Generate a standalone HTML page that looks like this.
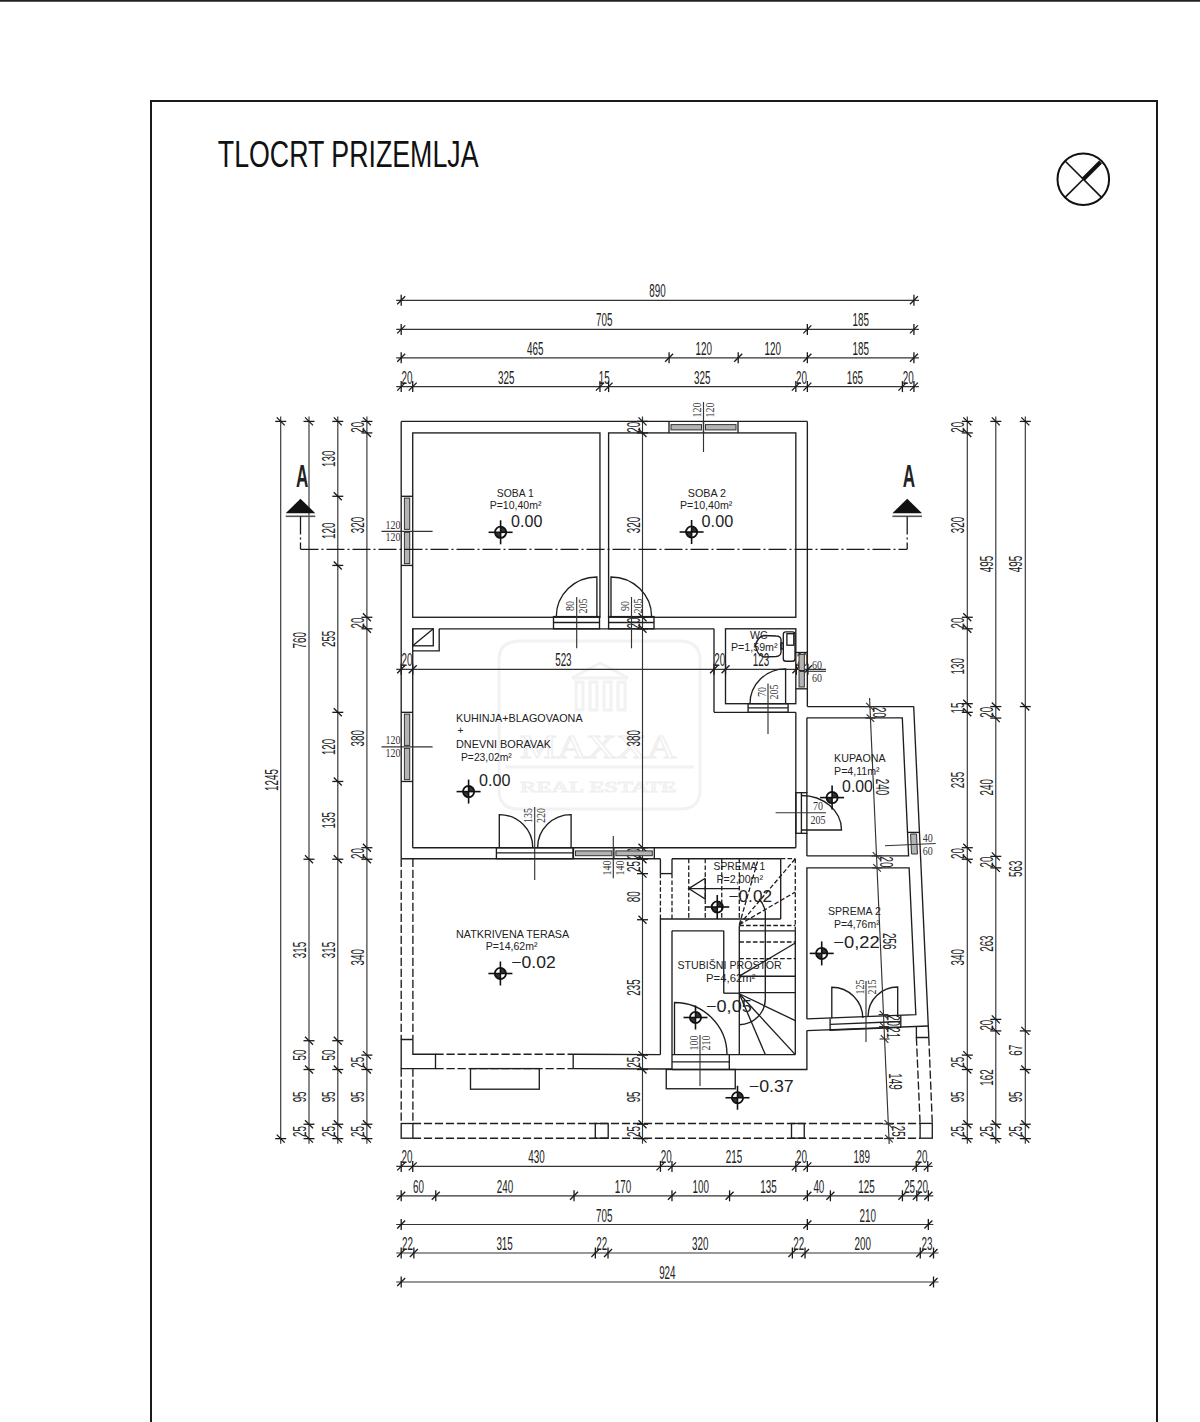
<!DOCTYPE html>
<html><head><meta charset="utf-8"><style>
*{margin:0;padding:0}
html,body{width:1200px;height:1422px;background:#fff;overflow:hidden}
svg{display:block}
.w{stroke:#1e1e1e;stroke-width:1.35;fill:none}
.dsh2{stroke:#1e1e1e;stroke-width:1.3;fill:none;stroke-dasharray:4.6 2.2}
.dsh{stroke:#1e1e1e;stroke-width:1.35;fill:none;stroke-dasharray:8.2 2.8}
.d{stroke:#333;stroke-width:1.15;fill:none}
.tk{stroke:#1a1a1a;stroke-width:1.3;fill:none}
.pane{fill:#b4b4b4;stroke:#333;stroke-width:1}
.sec{stroke:#1a1a1a;stroke-width:1.3;fill:none;stroke-dasharray:18 3 2 3}
.t{font-family:"Liberation Sans",sans-serif;fill:#222}
.tl{font-family:"Liberation Serif",serif;fill:#333}
.tt{font-family:"Liberation Sans",sans-serif;fill:#111}
.mk{fill:none;stroke:#111;stroke-width:1.8}
.mkf{fill:#333}
.mkl{stroke:#111;stroke-width:1.6}
.cmp{stroke:#111;stroke-width:1.6}
</style></head>
<body><svg width="1200" height="1422" viewBox="0 0 1200 1422">
<g opacity="0.9" fill="none" stroke="#f1f1f1" stroke-width="3"><path d="M499,660 Q499,641 520,641 L679,641 Q700,641 700,660 L700,790 Q700,809 680,809 L519,809 Q499,809 499,790 Z"/><line x1="505" y1="767" x2="694" y2="767"/><polygon points="600,663 572,678 628,678"/><rect x="576" y="682" width="7" height="28"/><rect x="590" y="682" width="7" height="28"/><rect x="604" y="682" width="7" height="28"/><rect x="618" y="682" width="7" height="28"/></g><text x="598" y="758" font-size="34" text-anchor="middle" textLength="156" lengthAdjust="spacingAndGlyphs" fill="none" stroke="#eeeeee" stroke-width="1.2" font-family="Liberation Serif, serif">MAXXA</text><text x="598" y="792" font-size="15" text-anchor="middle" textLength="156" lengthAdjust="spacingAndGlyphs" fill="none" stroke="#f0f0f0" stroke-width="1" font-family="Liberation Serif, serif">REAL ESTATE</text>
<line x1="396.2" y1="300.3" x2="918.93" y2="300.3" class="d" />
<line x1="401.2" y1="294.8" x2="401.2" y2="305.8" class="tk" />
<line x1="397.2" y1="304.3" x2="405.2" y2="296.3" class="tk" />
<line x1="913.93" y1="294.8" x2="913.93" y2="305.8" class="tk" />
<line x1="909.93" y1="304.3" x2="917.93" y2="296.3" class="tk" />
<text transform="translate(657.56,297.3) scale(0.53,1)" font-size="18.6" text-anchor="middle" class="t">890</text>
<line x1="396.2" y1="329.4" x2="918.93" y2="329.4" class="d" />
<line x1="401.2" y1="323.9" x2="401.2" y2="334.9" class="tk" />
<line x1="397.2" y1="333.4" x2="405.2" y2="325.4" class="tk" />
<line x1="807.35" y1="323.9" x2="807.35" y2="334.9" class="tk" />
<line x1="803.35" y1="333.4" x2="811.35" y2="325.4" class="tk" />
<line x1="913.93" y1="323.9" x2="913.93" y2="334.9" class="tk" />
<line x1="909.93" y1="333.4" x2="917.93" y2="325.4" class="tk" />
<text transform="translate(604.28,326.4) scale(0.53,1)" font-size="18.6" text-anchor="middle" class="t">705</text>
<text transform="translate(860.64,326.4) scale(0.53,1)" font-size="18.6" text-anchor="middle" class="t">185</text>
<line x1="396.2" y1="357.8" x2="918.93" y2="357.8" class="d" />
<line x1="401.2" y1="352.3" x2="401.2" y2="363.3" class="tk" />
<line x1="397.2" y1="361.8" x2="405.2" y2="353.8" class="tk" />
<line x1="669.09" y1="352.3" x2="669.09" y2="363.3" class="tk" />
<line x1="665.09" y1="361.8" x2="673.09" y2="353.8" class="tk" />
<line x1="738.22" y1="352.3" x2="738.22" y2="363.3" class="tk" />
<line x1="734.22" y1="361.8" x2="742.22" y2="353.8" class="tk" />
<line x1="807.35" y1="352.3" x2="807.35" y2="363.3" class="tk" />
<line x1="803.35" y1="361.8" x2="811.35" y2="353.8" class="tk" />
<line x1="913.93" y1="352.3" x2="913.93" y2="363.3" class="tk" />
<line x1="909.93" y1="361.8" x2="917.93" y2="353.8" class="tk" />
<text transform="translate(535.14,354.8) scale(0.53,1)" font-size="18.6" text-anchor="middle" class="t">465</text>
<text transform="translate(703.65,354.8) scale(0.53,1)" font-size="18.6" text-anchor="middle" class="t">120</text>
<text transform="translate(772.78,354.8) scale(0.53,1)" font-size="18.6" text-anchor="middle" class="t">120</text>
<text transform="translate(860.64,354.8) scale(0.53,1)" font-size="18.6" text-anchor="middle" class="t">185</text>
<line x1="396.2" y1="386.6" x2="918.93" y2="386.6" class="d" />
<line x1="401.2" y1="381.1" x2="401.2" y2="392.1" class="tk" />
<line x1="397.2" y1="390.6" x2="405.2" y2="382.6" class="tk" />
<line x1="412.72" y1="381.1" x2="412.72" y2="392.1" class="tk" />
<line x1="408.72" y1="390.6" x2="416.72" y2="382.6" class="tk" />
<line x1="599.95" y1="381.1" x2="599.95" y2="392.1" class="tk" />
<line x1="595.95" y1="390.6" x2="603.95" y2="382.6" class="tk" />
<line x1="608.6" y1="381.1" x2="608.6" y2="392.1" class="tk" />
<line x1="604.6" y1="390.6" x2="612.6" y2="382.6" class="tk" />
<line x1="795.83" y1="381.1" x2="795.83" y2="392.1" class="tk" />
<line x1="791.83" y1="390.6" x2="799.83" y2="382.6" class="tk" />
<line x1="807.35" y1="381.1" x2="807.35" y2="392.1" class="tk" />
<line x1="803.35" y1="390.6" x2="811.35" y2="382.6" class="tk" />
<line x1="902.41" y1="381.1" x2="902.41" y2="392.1" class="tk" />
<line x1="898.41" y1="390.6" x2="906.41" y2="382.6" class="tk" />
<line x1="913.93" y1="381.1" x2="913.93" y2="392.1" class="tk" />
<line x1="909.93" y1="390.6" x2="917.93" y2="382.6" class="tk" />
<text transform="translate(406.96,383.6) scale(0.53,1)" font-size="18.6" text-anchor="middle" class="t">20</text>
<text transform="translate(506.34,383.6) scale(0.53,1)" font-size="18.6" text-anchor="middle" class="t">325</text>
<text transform="translate(604.28,383.6) scale(0.53,1)" font-size="18.6" text-anchor="middle" class="t">15</text>
<text transform="translate(702.21,383.6) scale(0.53,1)" font-size="18.6" text-anchor="middle" class="t">325</text>
<text transform="translate(801.59,383.6) scale(0.53,1)" font-size="18.6" text-anchor="middle" class="t">20</text>
<text transform="translate(854.88,383.6) scale(0.53,1)" font-size="18.6" text-anchor="middle" class="t">165</text>
<text transform="translate(908.17,383.6) scale(0.53,1)" font-size="18.6" text-anchor="middle" class="t">20</text>
<line x1="396.2" y1="1166.4" x2="932.76" y2="1166.4" class="d" />
<line x1="401.2" y1="1160.9" x2="401.2" y2="1171.9" class="tk" />
<line x1="397.2" y1="1170.4" x2="405.2" y2="1162.4" class="tk" />
<line x1="412.72" y1="1160.9" x2="412.72" y2="1171.9" class="tk" />
<line x1="408.72" y1="1170.4" x2="416.72" y2="1162.4" class="tk" />
<line x1="660.44" y1="1160.9" x2="660.44" y2="1171.9" class="tk" />
<line x1="656.44" y1="1170.4" x2="664.44" y2="1162.4" class="tk" />
<line x1="671.97" y1="1160.9" x2="671.97" y2="1171.9" class="tk" />
<line x1="667.97" y1="1170.4" x2="675.97" y2="1162.4" class="tk" />
<line x1="795.83" y1="1160.9" x2="795.83" y2="1171.9" class="tk" />
<line x1="791.83" y1="1170.4" x2="799.83" y2="1162.4" class="tk" />
<line x1="807.35" y1="1160.9" x2="807.35" y2="1171.9" class="tk" />
<line x1="803.35" y1="1170.4" x2="811.35" y2="1162.4" class="tk" />
<line x1="916.23" y1="1160.9" x2="916.23" y2="1171.9" class="tk" />
<line x1="912.23" y1="1170.4" x2="920.23" y2="1162.4" class="tk" />
<line x1="927.76" y1="1160.9" x2="927.76" y2="1171.9" class="tk" />
<line x1="923.76" y1="1170.4" x2="931.76" y2="1162.4" class="tk" />
<text transform="translate(406.96,1163.4) scale(0.53,1)" font-size="18.6" text-anchor="middle" class="t">20</text>
<text transform="translate(536.58,1163.4) scale(0.53,1)" font-size="18.6" text-anchor="middle" class="t">430</text>
<text transform="translate(666.21,1163.4) scale(0.53,1)" font-size="18.6" text-anchor="middle" class="t">20</text>
<text transform="translate(733.9,1163.4) scale(0.53,1)" font-size="18.6" text-anchor="middle" class="t">215</text>
<text transform="translate(801.59,1163.4) scale(0.53,1)" font-size="18.6" text-anchor="middle" class="t">20</text>
<text transform="translate(861.79,1163.4) scale(0.53,1)" font-size="18.6" text-anchor="middle" class="t">189</text>
<text transform="translate(921.99,1163.4) scale(0.53,1)" font-size="18.6" text-anchor="middle" class="t">20</text>
<line x1="396.2" y1="1195.8" x2="933.33" y2="1195.8" class="d" />
<line x1="401.2" y1="1190.3" x2="401.2" y2="1201.3" class="tk" />
<line x1="397.2" y1="1199.8" x2="405.2" y2="1191.8" class="tk" />
<line x1="435.77" y1="1190.3" x2="435.77" y2="1201.3" class="tk" />
<line x1="431.77" y1="1199.8" x2="439.77" y2="1191.8" class="tk" />
<line x1="574.03" y1="1190.3" x2="574.03" y2="1201.3" class="tk" />
<line x1="570.03" y1="1199.8" x2="578.03" y2="1191.8" class="tk" />
<line x1="671.97" y1="1190.3" x2="671.97" y2="1201.3" class="tk" />
<line x1="667.97" y1="1199.8" x2="675.97" y2="1191.8" class="tk" />
<line x1="729.58" y1="1190.3" x2="729.58" y2="1201.3" class="tk" />
<line x1="725.58" y1="1199.8" x2="733.58" y2="1191.8" class="tk" />
<line x1="807.35" y1="1190.3" x2="807.35" y2="1201.3" class="tk" />
<line x1="803.35" y1="1199.8" x2="811.35" y2="1191.8" class="tk" />
<line x1="830.39" y1="1190.3" x2="830.39" y2="1201.3" class="tk" />
<line x1="826.39" y1="1199.8" x2="834.39" y2="1191.8" class="tk" />
<line x1="902.41" y1="1190.3" x2="902.41" y2="1201.3" class="tk" />
<line x1="898.41" y1="1199.8" x2="906.41" y2="1191.8" class="tk" />
<line x1="916.81" y1="1190.3" x2="916.81" y2="1201.3" class="tk" />
<line x1="912.81" y1="1199.8" x2="920.81" y2="1191.8" class="tk" />
<line x1="928.33" y1="1190.3" x2="928.33" y2="1201.3" class="tk" />
<line x1="924.33" y1="1199.8" x2="932.33" y2="1191.8" class="tk" />
<text transform="translate(418.48,1192.8) scale(0.53,1)" font-size="18.6" text-anchor="middle" class="t">60</text>
<text transform="translate(504.9,1192.8) scale(0.53,1)" font-size="18.6" text-anchor="middle" class="t">240</text>
<text transform="translate(623,1192.8) scale(0.53,1)" font-size="18.6" text-anchor="middle" class="t">170</text>
<text transform="translate(700.77,1192.8) scale(0.53,1)" font-size="18.6" text-anchor="middle" class="t">100</text>
<text transform="translate(768.46,1192.8) scale(0.53,1)" font-size="18.6" text-anchor="middle" class="t">135</text>
<text transform="translate(818.87,1192.8) scale(0.53,1)" font-size="18.6" text-anchor="middle" class="t">40</text>
<text transform="translate(866.4,1192.8) scale(0.53,1)" font-size="18.6" text-anchor="middle" class="t">125</text>
<text transform="translate(909.61,1192.8) scale(0.53,1)" font-size="18.6" text-anchor="middle" class="t">25</text>
<text transform="translate(922.57,1192.8) scale(0.53,1)" font-size="18.6" text-anchor="middle" class="t">20</text>
<line x1="396.2" y1="1224.5" x2="933.33" y2="1224.5" class="d" />
<line x1="401.2" y1="1219" x2="401.2" y2="1230" class="tk" />
<line x1="397.2" y1="1228.5" x2="405.2" y2="1220.5" class="tk" />
<line x1="807.35" y1="1219" x2="807.35" y2="1230" class="tk" />
<line x1="803.35" y1="1228.5" x2="811.35" y2="1220.5" class="tk" />
<line x1="928.33" y1="1219" x2="928.33" y2="1230" class="tk" />
<line x1="924.33" y1="1228.5" x2="932.33" y2="1220.5" class="tk" />
<text transform="translate(604.28,1221.5) scale(0.53,1)" font-size="18.6" text-anchor="middle" class="t">705</text>
<text transform="translate(867.84,1221.5) scale(0.53,1)" font-size="18.6" text-anchor="middle" class="t">210</text>
<line x1="396.2" y1="1253" x2="938.52" y2="1253" class="d" />
<line x1="401.2" y1="1247.5" x2="401.2" y2="1258.5" class="tk" />
<line x1="397.2" y1="1257" x2="405.2" y2="1249" class="tk" />
<line x1="413.87" y1="1247.5" x2="413.87" y2="1258.5" class="tk" />
<line x1="409.87" y1="1257" x2="417.87" y2="1249" class="tk" />
<line x1="595.35" y1="1247.5" x2="595.35" y2="1258.5" class="tk" />
<line x1="591.35" y1="1257" x2="599.35" y2="1249" class="tk" />
<line x1="608.02" y1="1247.5" x2="608.02" y2="1258.5" class="tk" />
<line x1="604.02" y1="1257" x2="612.02" y2="1249" class="tk" />
<line x1="792.37" y1="1247.5" x2="792.37" y2="1258.5" class="tk" />
<line x1="788.37" y1="1257" x2="796.37" y2="1249" class="tk" />
<line x1="805.05" y1="1247.5" x2="805.05" y2="1258.5" class="tk" />
<line x1="801.05" y1="1257" x2="809.05" y2="1249" class="tk" />
<line x1="920.27" y1="1247.5" x2="920.27" y2="1258.5" class="tk" />
<line x1="916.27" y1="1257" x2="924.27" y2="1249" class="tk" />
<line x1="933.52" y1="1247.5" x2="933.52" y2="1258.5" class="tk" />
<line x1="929.52" y1="1257" x2="937.52" y2="1249" class="tk" />
<text transform="translate(407.54,1250) scale(0.53,1)" font-size="18.6" text-anchor="middle" class="t">22</text>
<text transform="translate(504.61,1250) scale(0.53,1)" font-size="18.6" text-anchor="middle" class="t">315</text>
<text transform="translate(601.68,1250) scale(0.53,1)" font-size="18.6" text-anchor="middle" class="t">22</text>
<text transform="translate(700.2,1250) scale(0.53,1)" font-size="18.6" text-anchor="middle" class="t">320</text>
<text transform="translate(798.71,1250) scale(0.53,1)" font-size="18.6" text-anchor="middle" class="t">22</text>
<text transform="translate(862.66,1250) scale(0.53,1)" font-size="18.6" text-anchor="middle" class="t">200</text>
<text transform="translate(926.89,1250) scale(0.53,1)" font-size="18.6" text-anchor="middle" class="t">23</text>
<line x1="396.2" y1="1282" x2="938.52" y2="1282" class="d" />
<line x1="401.2" y1="1276.5" x2="401.2" y2="1287.5" class="tk" />
<line x1="397.2" y1="1286" x2="405.2" y2="1278" class="tk" />
<line x1="933.52" y1="1276.5" x2="933.52" y2="1287.5" class="tk" />
<line x1="929.52" y1="1286" x2="937.52" y2="1278" class="tk" />
<text transform="translate(667.36,1279) scale(0.53,1)" font-size="18.6" text-anchor="middle" class="t">924</text>
<line x1="280.7" y1="416.4" x2="280.7" y2="1143.64" class="d" />
<line x1="275.2" y1="421.4" x2="286.2" y2="421.4" class="tk" />
<line x1="276.7" y1="417.4" x2="284.7" y2="425.4" class="tk" />
<line x1="275.2" y1="1138.64" x2="286.2" y2="1138.64" class="tk" />
<line x1="276.7" y1="1134.64" x2="284.7" y2="1142.64" class="tk" />
<text transform="translate(277.7,780.02) rotate(-90) scale(0.53,1)" font-size="18.6" text-anchor="middle" class="t">1245</text>
<line x1="309" y1="416.4" x2="309" y2="1143.64" class="d" />
<line x1="303.5" y1="421.4" x2="314.5" y2="421.4" class="tk" />
<line x1="305" y1="417.4" x2="313" y2="425.4" class="tk" />
<line x1="303.5" y1="859.24" x2="314.5" y2="859.24" class="tk" />
<line x1="305" y1="855.24" x2="313" y2="863.24" class="tk" />
<line x1="303.5" y1="1040.71" x2="314.5" y2="1040.71" class="tk" />
<line x1="305" y1="1036.71" x2="313" y2="1044.71" class="tk" />
<line x1="303.5" y1="1069.51" x2="314.5" y2="1069.51" class="tk" />
<line x1="305" y1="1065.51" x2="313" y2="1073.51" class="tk" />
<line x1="303.5" y1="1124.24" x2="314.5" y2="1124.24" class="tk" />
<line x1="305" y1="1120.24" x2="313" y2="1128.24" class="tk" />
<line x1="303.5" y1="1138.64" x2="314.5" y2="1138.64" class="tk" />
<line x1="305" y1="1134.64" x2="313" y2="1142.64" class="tk" />
<text transform="translate(306,640.32) rotate(-90) scale(0.53,1)" font-size="18.6" text-anchor="middle" class="t">760</text>
<text transform="translate(306,949.97) rotate(-90) scale(0.53,1)" font-size="18.6" text-anchor="middle" class="t">315</text>
<text transform="translate(306,1055.11) rotate(-90) scale(0.53,1)" font-size="18.6" text-anchor="middle" class="t">50</text>
<text transform="translate(306,1096.88) rotate(-90) scale(0.53,1)" font-size="18.6" text-anchor="middle" class="t">95</text>
<text transform="translate(306,1131.44) rotate(-90) scale(0.53,1)" font-size="18.6" text-anchor="middle" class="t">25</text>
<line x1="337.8" y1="416.4" x2="337.8" y2="1143.64" class="d" />
<line x1="332.3" y1="421.4" x2="343.3" y2="421.4" class="tk" />
<line x1="333.8" y1="417.4" x2="341.8" y2="425.4" class="tk" />
<line x1="332.3" y1="496.29" x2="343.3" y2="496.29" class="tk" />
<line x1="333.8" y1="492.29" x2="341.8" y2="500.29" class="tk" />
<line x1="332.3" y1="565.42" x2="343.3" y2="565.42" class="tk" />
<line x1="333.8" y1="561.42" x2="341.8" y2="569.42" class="tk" />
<line x1="332.3" y1="712.33" x2="343.3" y2="712.33" class="tk" />
<line x1="333.8" y1="708.33" x2="341.8" y2="716.33" class="tk" />
<line x1="332.3" y1="781.46" x2="343.3" y2="781.46" class="tk" />
<line x1="333.8" y1="777.46" x2="341.8" y2="785.46" class="tk" />
<line x1="332.3" y1="859.24" x2="343.3" y2="859.24" class="tk" />
<line x1="333.8" y1="855.24" x2="341.8" y2="863.24" class="tk" />
<line x1="332.3" y1="1040.71" x2="343.3" y2="1040.71" class="tk" />
<line x1="333.8" y1="1036.71" x2="341.8" y2="1044.71" class="tk" />
<line x1="332.3" y1="1069.51" x2="343.3" y2="1069.51" class="tk" />
<line x1="333.8" y1="1065.51" x2="341.8" y2="1073.51" class="tk" />
<line x1="332.3" y1="1124.24" x2="343.3" y2="1124.24" class="tk" />
<line x1="333.8" y1="1120.24" x2="341.8" y2="1128.24" class="tk" />
<line x1="332.3" y1="1138.64" x2="343.3" y2="1138.64" class="tk" />
<line x1="333.8" y1="1134.64" x2="341.8" y2="1142.64" class="tk" />
<text transform="translate(334.8,458.85) rotate(-90) scale(0.53,1)" font-size="18.6" text-anchor="middle" class="t">130</text>
<text transform="translate(334.8,530.86) rotate(-90) scale(0.53,1)" font-size="18.6" text-anchor="middle" class="t">120</text>
<text transform="translate(334.8,638.88) rotate(-90) scale(0.53,1)" font-size="18.6" text-anchor="middle" class="t">255</text>
<text transform="translate(334.8,746.9) rotate(-90) scale(0.53,1)" font-size="18.6" text-anchor="middle" class="t">120</text>
<text transform="translate(334.8,820.35) rotate(-90) scale(0.53,1)" font-size="18.6" text-anchor="middle" class="t">135</text>
<text transform="translate(334.8,949.97) rotate(-90) scale(0.53,1)" font-size="18.6" text-anchor="middle" class="t">315</text>
<text transform="translate(334.8,1055.11) rotate(-90) scale(0.53,1)" font-size="18.6" text-anchor="middle" class="t">50</text>
<text transform="translate(334.8,1096.88) rotate(-90) scale(0.53,1)" font-size="18.6" text-anchor="middle" class="t">95</text>
<text transform="translate(334.8,1131.44) rotate(-90) scale(0.53,1)" font-size="18.6" text-anchor="middle" class="t">25</text>
<line x1="366.9" y1="416.4" x2="366.9" y2="1143.64" class="d" />
<line x1="361.4" y1="421.4" x2="372.4" y2="421.4" class="tk" />
<line x1="362.9" y1="417.4" x2="370.9" y2="425.4" class="tk" />
<line x1="361.4" y1="432.92" x2="372.4" y2="432.92" class="tk" />
<line x1="362.9" y1="428.92" x2="370.9" y2="436.92" class="tk" />
<line x1="361.4" y1="617.27" x2="372.4" y2="617.27" class="tk" />
<line x1="362.9" y1="613.27" x2="370.9" y2="621.27" class="tk" />
<line x1="361.4" y1="628.8" x2="372.4" y2="628.8" class="tk" />
<line x1="362.9" y1="624.8" x2="370.9" y2="632.8" class="tk" />
<line x1="361.4" y1="847.71" x2="372.4" y2="847.71" class="tk" />
<line x1="362.9" y1="843.71" x2="370.9" y2="851.71" class="tk" />
<line x1="361.4" y1="859.24" x2="372.4" y2="859.24" class="tk" />
<line x1="362.9" y1="855.24" x2="370.9" y2="863.24" class="tk" />
<line x1="361.4" y1="1055.11" x2="372.4" y2="1055.11" class="tk" />
<line x1="362.9" y1="1051.11" x2="370.9" y2="1059.11" class="tk" />
<line x1="361.4" y1="1069.51" x2="372.4" y2="1069.51" class="tk" />
<line x1="362.9" y1="1065.51" x2="370.9" y2="1073.51" class="tk" />
<line x1="361.4" y1="1124.24" x2="372.4" y2="1124.24" class="tk" />
<line x1="362.9" y1="1120.24" x2="370.9" y2="1128.24" class="tk" />
<line x1="361.4" y1="1138.64" x2="372.4" y2="1138.64" class="tk" />
<line x1="362.9" y1="1134.64" x2="370.9" y2="1142.64" class="tk" />
<text transform="translate(363.9,427.16) rotate(-90) scale(0.53,1)" font-size="18.6" text-anchor="middle" class="t">20</text>
<text transform="translate(363.9,525.1) rotate(-90) scale(0.53,1)" font-size="18.6" text-anchor="middle" class="t">320</text>
<text transform="translate(363.9,623.03) rotate(-90) scale(0.53,1)" font-size="18.6" text-anchor="middle" class="t">20</text>
<text transform="translate(363.9,738.25) rotate(-90) scale(0.53,1)" font-size="18.6" text-anchor="middle" class="t">380</text>
<text transform="translate(363.9,853.47) rotate(-90) scale(0.53,1)" font-size="18.6" text-anchor="middle" class="t">20</text>
<text transform="translate(363.9,957.17) rotate(-90) scale(0.53,1)" font-size="18.6" text-anchor="middle" class="t">340</text>
<text transform="translate(363.9,1062.31) rotate(-90) scale(0.53,1)" font-size="18.6" text-anchor="middle" class="t">25</text>
<text transform="translate(363.9,1096.88) rotate(-90) scale(0.53,1)" font-size="18.6" text-anchor="middle" class="t">95</text>
<text transform="translate(363.9,1131.44) rotate(-90) scale(0.53,1)" font-size="18.6" text-anchor="middle" class="t">25</text>
<line x1="967.3" y1="416.4" x2="967.3" y2="1143.64" class="d" />
<line x1="961.8" y1="421.4" x2="972.8" y2="421.4" class="tk" />
<line x1="963.3" y1="417.4" x2="971.3" y2="425.4" class="tk" />
<line x1="961.8" y1="432.92" x2="972.8" y2="432.92" class="tk" />
<line x1="963.3" y1="428.92" x2="971.3" y2="436.92" class="tk" />
<line x1="961.8" y1="617.27" x2="972.8" y2="617.27" class="tk" />
<line x1="963.3" y1="613.27" x2="971.3" y2="621.27" class="tk" />
<line x1="961.8" y1="628.8" x2="972.8" y2="628.8" class="tk" />
<line x1="963.3" y1="624.8" x2="971.3" y2="632.8" class="tk" />
<line x1="961.8" y1="703.69" x2="972.8" y2="703.69" class="tk" />
<line x1="963.3" y1="699.69" x2="971.3" y2="707.69" class="tk" />
<line x1="961.8" y1="712.33" x2="972.8" y2="712.33" class="tk" />
<line x1="963.3" y1="708.33" x2="971.3" y2="716.33" class="tk" />
<line x1="961.8" y1="847.71" x2="972.8" y2="847.71" class="tk" />
<line x1="963.3" y1="843.71" x2="971.3" y2="851.71" class="tk" />
<line x1="961.8" y1="859.24" x2="972.8" y2="859.24" class="tk" />
<line x1="963.3" y1="855.24" x2="971.3" y2="863.24" class="tk" />
<line x1="961.8" y1="1055.11" x2="972.8" y2="1055.11" class="tk" />
<line x1="963.3" y1="1051.11" x2="971.3" y2="1059.11" class="tk" />
<line x1="961.8" y1="1069.51" x2="972.8" y2="1069.51" class="tk" />
<line x1="963.3" y1="1065.51" x2="971.3" y2="1073.51" class="tk" />
<line x1="961.8" y1="1124.24" x2="972.8" y2="1124.24" class="tk" />
<line x1="963.3" y1="1120.24" x2="971.3" y2="1128.24" class="tk" />
<line x1="961.8" y1="1138.64" x2="972.8" y2="1138.64" class="tk" />
<line x1="963.3" y1="1134.64" x2="971.3" y2="1142.64" class="tk" />
<text transform="translate(964.3,427.16) rotate(-90) scale(0.53,1)" font-size="18.6" text-anchor="middle" class="t">20</text>
<text transform="translate(964.3,525.1) rotate(-90) scale(0.53,1)" font-size="18.6" text-anchor="middle" class="t">320</text>
<text transform="translate(964.3,623.03) rotate(-90) scale(0.53,1)" font-size="18.6" text-anchor="middle" class="t">20</text>
<text transform="translate(964.3,666.24) rotate(-90) scale(0.53,1)" font-size="18.6" text-anchor="middle" class="t">130</text>
<text transform="translate(964.3,708.01) rotate(-90) scale(0.53,1)" font-size="18.6" text-anchor="middle" class="t">15</text>
<text transform="translate(964.3,780.02) rotate(-90) scale(0.53,1)" font-size="18.6" text-anchor="middle" class="t">235</text>
<text transform="translate(964.3,853.47) rotate(-90) scale(0.53,1)" font-size="18.6" text-anchor="middle" class="t">20</text>
<text transform="translate(964.3,957.17) rotate(-90) scale(0.53,1)" font-size="18.6" text-anchor="middle" class="t">340</text>
<text transform="translate(964.3,1062.31) rotate(-90) scale(0.53,1)" font-size="18.6" text-anchor="middle" class="t">25</text>
<text transform="translate(964.3,1096.88) rotate(-90) scale(0.53,1)" font-size="18.6" text-anchor="middle" class="t">95</text>
<text transform="translate(964.3,1131.44) rotate(-90) scale(0.53,1)" font-size="18.6" text-anchor="middle" class="t">25</text>
<line x1="995.8" y1="416.4" x2="995.8" y2="1143.64" class="d" />
<line x1="990.3" y1="421.4" x2="1001.3" y2="421.4" class="tk" />
<line x1="991.8" y1="417.4" x2="999.8" y2="425.4" class="tk" />
<line x1="990.3" y1="706.57" x2="1001.3" y2="706.57" class="tk" />
<line x1="991.8" y1="702.57" x2="999.8" y2="710.57" class="tk" />
<line x1="990.3" y1="718.09" x2="1001.3" y2="718.09" class="tk" />
<line x1="991.8" y1="714.09" x2="999.8" y2="722.09" class="tk" />
<line x1="990.3" y1="856.36" x2="1001.3" y2="856.36" class="tk" />
<line x1="991.8" y1="852.36" x2="999.8" y2="860.36" class="tk" />
<line x1="990.3" y1="867.88" x2="1001.3" y2="867.88" class="tk" />
<line x1="991.8" y1="863.88" x2="999.8" y2="871.88" class="tk" />
<line x1="990.3" y1="1019.39" x2="1001.3" y2="1019.39" class="tk" />
<line x1="991.8" y1="1015.39" x2="999.8" y2="1023.39" class="tk" />
<line x1="990.3" y1="1030.91" x2="1001.3" y2="1030.91" class="tk" />
<line x1="991.8" y1="1026.91" x2="999.8" y2="1034.91" class="tk" />
<line x1="990.3" y1="1124.24" x2="1001.3" y2="1124.24" class="tk" />
<line x1="991.8" y1="1120.24" x2="999.8" y2="1128.24" class="tk" />
<line x1="990.3" y1="1138.64" x2="1001.3" y2="1138.64" class="tk" />
<line x1="991.8" y1="1134.64" x2="999.8" y2="1142.64" class="tk" />
<text transform="translate(992.8,563.98) rotate(-90) scale(0.53,1)" font-size="18.6" text-anchor="middle" class="t">495</text>
<text transform="translate(992.8,712.33) rotate(-90) scale(0.53,1)" font-size="18.6" text-anchor="middle" class="t">20</text>
<text transform="translate(992.8,787.22) rotate(-90) scale(0.53,1)" font-size="18.6" text-anchor="middle" class="t">240</text>
<text transform="translate(992.8,862.12) rotate(-90) scale(0.53,1)" font-size="18.6" text-anchor="middle" class="t">20</text>
<text transform="translate(992.8,943.63) rotate(-90) scale(0.53,1)" font-size="18.6" text-anchor="middle" class="t">263</text>
<text transform="translate(992.8,1025.15) rotate(-90) scale(0.53,1)" font-size="18.6" text-anchor="middle" class="t">20</text>
<text transform="translate(992.8,1077.58) rotate(-90) scale(0.53,1)" font-size="18.6" text-anchor="middle" class="t">162</text>
<text transform="translate(992.8,1131.44) rotate(-90) scale(0.53,1)" font-size="18.6" text-anchor="middle" class="t">25</text>
<line x1="1025.3" y1="416.4" x2="1025.3" y2="1143.64" class="d" />
<line x1="1019.8" y1="421.4" x2="1030.8" y2="421.4" class="tk" />
<line x1="1021.3" y1="417.4" x2="1029.3" y2="425.4" class="tk" />
<line x1="1019.8" y1="706.57" x2="1030.8" y2="706.57" class="tk" />
<line x1="1021.3" y1="702.57" x2="1029.3" y2="710.57" class="tk" />
<line x1="1019.8" y1="1030.91" x2="1030.8" y2="1030.91" class="tk" />
<line x1="1021.3" y1="1026.91" x2="1029.3" y2="1034.91" class="tk" />
<line x1="1019.8" y1="1069.51" x2="1030.8" y2="1069.51" class="tk" />
<line x1="1021.3" y1="1065.51" x2="1029.3" y2="1073.51" class="tk" />
<line x1="1019.8" y1="1124.24" x2="1030.8" y2="1124.24" class="tk" />
<line x1="1021.3" y1="1120.24" x2="1029.3" y2="1128.24" class="tk" />
<line x1="1019.8" y1="1138.64" x2="1030.8" y2="1138.64" class="tk" />
<line x1="1021.3" y1="1134.64" x2="1029.3" y2="1142.64" class="tk" />
<text transform="translate(1022.3,563.98) rotate(-90) scale(0.53,1)" font-size="18.6" text-anchor="middle" class="t">495</text>
<text transform="translate(1022.3,868.74) rotate(-90) scale(0.53,1)" font-size="18.6" text-anchor="middle" class="t">563</text>
<text transform="translate(1022.3,1050.21) rotate(-90) scale(0.53,1)" font-size="18.6" text-anchor="middle" class="t">67</text>
<text transform="translate(1022.3,1096.88) rotate(-90) scale(0.53,1)" font-size="18.6" text-anchor="middle" class="t">95</text>
<text transform="translate(1022.3,1131.44) rotate(-90) scale(0.53,1)" font-size="18.6" text-anchor="middle" class="t">25</text>
<line x1="642.5" y1="416.4" x2="642.5" y2="1143.64" class="d" />
<line x1="637" y1="421.4" x2="648" y2="421.4" class="tk" />
<line x1="638.5" y1="417.4" x2="646.5" y2="425.4" class="tk" />
<line x1="637" y1="432.92" x2="648" y2="432.92" class="tk" />
<line x1="638.5" y1="428.92" x2="646.5" y2="436.92" class="tk" />
<line x1="637" y1="617.27" x2="648" y2="617.27" class="tk" />
<line x1="638.5" y1="613.27" x2="646.5" y2="621.27" class="tk" />
<line x1="637" y1="628.8" x2="648" y2="628.8" class="tk" />
<line x1="638.5" y1="624.8" x2="646.5" y2="632.8" class="tk" />
<line x1="637" y1="847.71" x2="648" y2="847.71" class="tk" />
<line x1="638.5" y1="843.71" x2="646.5" y2="851.71" class="tk" />
<line x1="637" y1="859.24" x2="648" y2="859.24" class="tk" />
<line x1="638.5" y1="855.24" x2="646.5" y2="863.24" class="tk" />
<line x1="637" y1="873.64" x2="648" y2="873.64" class="tk" />
<line x1="638.5" y1="869.64" x2="646.5" y2="877.64" class="tk" />
<line x1="637" y1="919.73" x2="648" y2="919.73" class="tk" />
<line x1="638.5" y1="915.73" x2="646.5" y2="923.73" class="tk" />
<line x1="637" y1="1055.11" x2="648" y2="1055.11" class="tk" />
<line x1="638.5" y1="1051.11" x2="646.5" y2="1059.11" class="tk" />
<line x1="637" y1="1069.51" x2="648" y2="1069.51" class="tk" />
<line x1="638.5" y1="1065.51" x2="646.5" y2="1073.51" class="tk" />
<line x1="637" y1="1124.24" x2="648" y2="1124.24" class="tk" />
<line x1="638.5" y1="1120.24" x2="646.5" y2="1128.24" class="tk" />
<line x1="637" y1="1138.64" x2="648" y2="1138.64" class="tk" />
<line x1="638.5" y1="1134.64" x2="646.5" y2="1142.64" class="tk" />
<text transform="translate(639.5,427.16) rotate(-90) scale(0.53,1)" font-size="18.6" text-anchor="middle" class="t">20</text>
<text transform="translate(639.5,525.1) rotate(-90) scale(0.53,1)" font-size="18.6" text-anchor="middle" class="t">320</text>
<text transform="translate(639.5,623.03) rotate(-90) scale(0.53,1)" font-size="18.6" text-anchor="middle" class="t">20</text>
<text transform="translate(639.5,738.25) rotate(-90) scale(0.53,1)" font-size="18.6" text-anchor="middle" class="t">380</text>
<text transform="translate(639.5,853.47) rotate(-90) scale(0.53,1)" font-size="18.6" text-anchor="middle" class="t">20</text>
<text transform="translate(639.5,866.44) rotate(-90) scale(0.53,1)" font-size="18.6" text-anchor="middle" class="t">25</text>
<text transform="translate(639.5,896.68) rotate(-90) scale(0.53,1)" font-size="18.6" text-anchor="middle" class="t">80</text>
<text transform="translate(639.5,987.42) rotate(-90) scale(0.53,1)" font-size="18.6" text-anchor="middle" class="t">235</text>
<text transform="translate(639.5,1062.31) rotate(-90) scale(0.53,1)" font-size="18.6" text-anchor="middle" class="t">25</text>
<text transform="translate(639.5,1096.88) rotate(-90) scale(0.53,1)" font-size="18.6" text-anchor="middle" class="t">95</text>
<text transform="translate(639.5,1131.44) rotate(-90) scale(0.53,1)" font-size="18.6" text-anchor="middle" class="t">25</text>
<line x1="396.2" y1="669.3" x2="826" y2="669.3" class="d" />
<line x1="401.2" y1="663.8" x2="401.2" y2="674.8" class="tk" />
<line x1="397.2" y1="673.3" x2="405.2" y2="665.3" class="tk" />
<line x1="412.72" y1="663.8" x2="412.72" y2="674.8" class="tk" />
<line x1="408.72" y1="673.3" x2="416.72" y2="665.3" class="tk" />
<line x1="714.02" y1="663.8" x2="714.02" y2="674.8" class="tk" />
<line x1="710.02" y1="673.3" x2="718.02" y2="665.3" class="tk" />
<line x1="725.54" y1="663.8" x2="725.54" y2="674.8" class="tk" />
<line x1="721.54" y1="673.3" x2="729.54" y2="665.3" class="tk" />
<line x1="796.4" y1="663.8" x2="796.4" y2="674.8" class="tk" />
<line x1="792.4" y1="673.3" x2="800.4" y2="665.3" class="tk" />
<line x1="807.93" y1="663.8" x2="807.93" y2="674.8" class="tk" />
<line x1="803.93" y1="673.3" x2="811.93" y2="665.3" class="tk" />
<text transform="translate(406.96,666.3) scale(0.53,1)" font-size="18.6" text-anchor="middle" class="t">20</text>
<text transform="translate(563.37,666.3) scale(0.53,1)" font-size="18.6" text-anchor="middle" class="t">523</text>
<text transform="translate(719.78,666.3) scale(0.53,1)" font-size="18.6" text-anchor="middle" class="t">20</text>
<text transform="translate(760.97,666.3) scale(0.53,1)" font-size="18.6" text-anchor="middle" class="t">123</text>
<text transform="translate(802.17,666.3) scale(0.53,1)" font-size="18.6" text-anchor="middle" class="t">20</text>
<line x1="401.2" y1="421.4" x2="807.35" y2="421.4" class="w" />
<line x1="401.2" y1="421.4" x2="401.2" y2="858.7" class="w" />
<line x1="807.35" y1="421.4" x2="807.35" y2="706.6" class="w" />
<rect x="412.72" y="432.92" width="187.23" height="184.35" class="w"/>
<rect x="608.6" y="432.92" width="187.23" height="184.35" class="w"/>
<line x1="439.2" y1="628.8" x2="714" y2="628.8" class="w" />
<line x1="412.72" y1="628.8" x2="412.72" y2="847.7" class="w" />
<rect x="412.72" y="628.8" width="20.58" height="17" class="w"/>
<line x1="412.72" y1="645.8" x2="433.3" y2="628.8" class="w" />
<polyline points="412.72,650.8 439.2,650.8 439.2,628.8" class="w"/>
<line x1="412.72" y1="847.7" x2="795.83" y2="847.7" class="w" />
<line x1="795.83" y1="712.3" x2="795.83" y2="847.7" class="w" />
<line x1="714" y1="712.3" x2="795.83" y2="712.3" class="w" />
<line x1="714" y1="628.8" x2="714" y2="712.3" class="w" />
<rect x="725.5" y="628.8" width="70.33" height="74.9" class="w"/>
<line x1="401.2" y1="858.7" x2="660.4" y2="858.7" class="w" />
<line x1="660.4" y1="858.7" x2="660.4" y2="873.6" class="w" />
<line x1="672" y1="858.7" x2="672" y2="873.6" class="w" />
<line x1="660.4" y1="873.6" x2="672" y2="873.6" class="w" />
<line x1="660.4" y1="873.6" x2="660.4" y2="919" class="dsh2" />
<line x1="672" y1="873.6" x2="672" y2="919" class="dsh2" />
<line x1="660.4" y1="919" x2="660.4" y2="1054.6" class="w" />
<line x1="672" y1="858.7" x2="780.7" y2="858.7" class="w" />
<line x1="780.7" y1="858.7" x2="780.7" y2="919" class="w" />
<line x1="660.4" y1="919" x2="780.7" y2="919" class="w" />
<line x1="780.7" y1="858.7" x2="795.3" y2="858.7" class="dsh2" />
<line x1="672" y1="930.8" x2="672" y2="1069.5" class="w" />
<line x1="672" y1="930.8" x2="723.75" y2="930.8" class="w" />
<line x1="723.75" y1="930.8" x2="723.75" y2="993.2" class="w" />
<line x1="723.75" y1="993.2" x2="739.3" y2="993.2" class="w" />
<line x1="739.3" y1="925.5" x2="739.3" y2="1054.6" class="w" />
<line x1="795.3" y1="858.7" x2="795.3" y2="930.8" class="dsh2" />
<line x1="795.3" y1="930.8" x2="795.3" y2="1054.6" class="w" />
<line x1="739.3" y1="925.5" x2="795.3" y2="925.5" class="dsh2" />
<line x1="739.3" y1="930.8" x2="795.3" y2="930.8" class="w" />
<line x1="739.3" y1="942" x2="795.3" y2="942" class="dsh2" />
<line x1="739.3" y1="958.7" x2="795.3" y2="958.7" class="dsh2" />
<line x1="739.3" y1="976.2" x2="795.3" y2="976.2" class="w" />
<line x1="739.3" y1="992.6" x2="795.3" y2="992.6" class="w" />
<line x1="739.3" y1="976.2" x2="795.3" y2="943" class="w" />
<line x1="688.75" y1="858.7" x2="688.75" y2="919" class="dsh2" />
<line x1="705.25" y1="858.7" x2="705.25" y2="919" class="dsh2" />
<line x1="721.75" y1="858.7" x2="721.75" y2="919" class="dsh2" />
<line x1="739.3" y1="858.7" x2="739.3" y2="919" class="dsh2" />
<line x1="739.3" y1="924.7" x2="795.3" y2="858.7" class="dsh2" />
<line x1="739.3" y1="924.7" x2="795.3" y2="892" class="dsh2" />
<line x1="739.3" y1="924.7" x2="758.3" y2="858.7" class="dsh2" />
<line x1="688.75" y1="888.6" x2="739.3" y2="888.6" class="w" />
<polyline points="705.25,878.2 688.75,888.6 705.25,899 705.25,878.2" class="w"/>
<path d="M765.3,930.8 L765.3,912 Q764,904 759,899" class="w"/>
<path d="M765.3,930.8 L765.3,998.7 A26,26 0 0 1 739.3,1024.7" class="w"/>
<line x1="739.3" y1="993.75" x2="795.3" y2="1020.6" class="w" />
<line x1="739.3" y1="993.75" x2="795.3" y2="1054.6" class="w" />
<line x1="739.3" y1="993.75" x2="765.3" y2="1054.6" class="w" />
<line x1="729.3" y1="1054.6" x2="795.3" y2="1054.6" class="w" />
<line x1="672" y1="1069.5" x2="807.35" y2="1069.5" class="w" />
<line x1="806.9" y1="1030.6" x2="806.9" y2="1069.5" class="w" />
<line x1="807.35" y1="706.6" x2="913.71" y2="706.6" class="w" />
<line x1="913.7" y1="706.3" x2="928.28" y2="1026" class="w" />
<polyline points="806.9,717.8 902.3,717.8 908.6,855.9 806.9,855.9" class="w"/>
<line x1="806.9" y1="717.8" x2="806.9" y2="792.7" class="w" />
<line x1="806.9" y1="833.3" x2="806.9" y2="855.9" class="w" />
<polyline points="806.9,1018.9 806.9,867.9 909.14,867.9 915.83,1014.6 806.9,1018.9" class="w"/>
<line x1="806.9" y1="1030.6" x2="928.28" y2="1026" class="w" />
<polyline points="916.4,1027 916.4,1037.5 928.8,1037.5" class="w"/>
<line x1="928.28" y1="1026" x2="928.8" y2="1037.5" class="w" />
<line x1="916.4" y1="1037.5" x2="920.1" y2="1123.4" class="dsh" />
<line x1="928.8" y1="1037.5" x2="932.3" y2="1123.4" class="dsh" />
<rect x="920.1" y="1123.4" width="12.2" height="14.8" class="w"/>
<line x1="401.2" y1="858.7" x2="401.2" y2="1039.5" class="dsh" />
<line x1="412.9" y1="858.7" x2="412.9" y2="1039.5" class="dsh" />
<polyline points="412.9,1039.5 401.2,1039.5 401.2,1068.6 435.5,1068.6 435.5,1054.2 412.9,1054.2 412.9,1039.5" class="w"/>
<line x1="435.5" y1="1054.2" x2="573.2" y2="1054.2" class="dsh" />
<line x1="435.5" y1="1068.6" x2="573.2" y2="1068.6" class="dsh" />
<line x1="573.2" y1="1054.2" x2="573.2" y2="1068.6" class="w" />
<line x1="573.2" y1="1054.2" x2="660.4" y2="1054.6" class="w" />
<line x1="573.2" y1="1068.6" x2="672" y2="1069" class="w" />
<rect x="470.5" y="1068.6" width="68.8" height="20.6" class="w"/>
<rect x="666.25" y="1069.5" width="69" height="19.25" class="w"/>
<line x1="401.2" y1="1068.6" x2="401.2" y2="1123.5" class="dsh" />
<line x1="412.9" y1="1068.6" x2="412.9" y2="1123.5" class="dsh" />
<line x1="412.9" y1="1123.5" x2="920.1" y2="1123.5" class="dsh" />
<line x1="412.9" y1="1138.2" x2="920.1" y2="1138.2" class="dsh" />
<rect x="401.2" y="1123.5" width="11.7" height="14.7" class="w"/>
<rect x="595.3" y="1123.5" width="12.9" height="14.7" class="w"/>
<rect x="791.5" y="1123.5" width="12.75" height="14.7" class="w"/>
<rect x="783.3" y="631.9" width="11.7" height="29.3" rx="2.5" class="w"/>
<rect x="786.9" y="633.7" width="6.9" height="11.5" class="w"/>
<path d="M781,640 Q781,636 776,636 L764,635.5 Q757,637 755.5,646 Q757,655 764,657 L776,656.5 Q781,656 781,652 Z" class="w"/>
<rect x="781" y="643" width="2.3" height="6" class="w"/>
<path d="M596.9,616.6 L596.9,577 A40.6,39.6 0 0 0 556.3,616.6" class="w"/>
<rect x="553.5" y="616.6" width="46" height="12.2" class="w"/>
<line x1="553.5" y1="622.5" x2="599.5" y2="622.5" class="w" />
<path d="M611,616.6 L611,577 A40.6,39.6 0 0 1 651.6,616.6" class="w"/>
<rect x="608.6" y="616.6" width="45.4" height="12.2" class="w"/>
<line x1="608.6" y1="622.5" x2="654" y2="622.5" class="w" />
<path d="M785.6,703.7 L785.6,668.8 A35.6,34.9 0 0 0 750,703.7" class="w"/>
<rect x="748.1" y="703.7" width="40" height="8.6" class="w"/>
<line x1="748.1" y1="707.8" x2="788.1" y2="707.8" class="w" />
<path d="M499.3,847.7 L499.3,814.6 A33.5,33.1 0 0 1 532.8,847.7" class="w"/>
<path d="M571.1,847.7 L571.1,814.6 A33.5,33.1 0 0 0 537.6,847.7" class="w"/>
<rect x="496.4" y="847.7" width="76.6" height="11" class="w"/>
<line x1="496.4" y1="852.9" x2="573" y2="852.9" class="w" />
<path d="M801.4,830 L841.5,830 A40.1,34.5 0 0 0 801.4,795.5" class="w"/>
<rect x="795.83" y="792.7" width="11.07" height="40.6" class="w"/>
<line x1="801.4" y1="792.7" x2="801.4" y2="833.3" class="w" />
<path d="M831.8,1018.5 L831.8,987.2 A31,31 0 0 1 862.8,1018" class="w"/>
<path d="M897.7,1015.5 L897.7,987.0 A29.6,29 0 0 0 868.1,1016" class="w"/>
<polyline points="830.1,1018.6 830.1,1030.2 900.8,1027.3 900.8,1015.6" class="w"/>
<line x1="830.1" y1="1024.4" x2="900.8" y2="1021.5" class="w" />
<path d="M674.5,1054.6 L674.5,1002.5 A52.5,52.1 0 0 1 727,1054.6" class="w"/>
<line x1="672" y1="1054.6" x2="729.3" y2="1054.6" class="w" />
<line x1="729.3" y1="1054.6" x2="729.3" y2="1069.5" class="w" />
<line x1="672" y1="1061.8" x2="729.3" y2="1061.8" class="w" />
<line x1="401.2" y1="496.29" x2="412.72" y2="496.29" class="w" />
<line x1="401.2" y1="565.42" x2="412.72" y2="565.42" class="w" />
<rect x="404.4" y="498.09" width="5.32" height="31.27" class="pane"/>
<rect x="404.4" y="532.36" width="5.32" height="31.27" class="pane"/>
<line x1="401.2" y1="712.33" x2="412.72" y2="712.33" class="w" />
<line x1="401.2" y1="781.46" x2="412.72" y2="781.46" class="w" />
<rect x="404.4" y="714.13" width="5.32" height="31.27" class="pane"/>
<rect x="404.4" y="748.4" width="5.32" height="31.27" class="pane"/>
<line x1="669" y1="421.4" x2="669" y2="432.92" class="w" />
<line x1="738" y1="421.4" x2="738" y2="432.92" class="w" />
<rect x="671" y="424.6" width="30.5" height="5.32" class="pane"/>
<rect x="705.5" y="424.6" width="30.5" height="5.32" class="pane"/>
<line x1="703.5" y1="421.4" x2="703.5" y2="432.92" class="w" />
<line x1="795.83" y1="652.5" x2="807.35" y2="652.5" class="w" />
<line x1="795.83" y1="688.8" x2="807.35" y2="688.8" class="w" />
<rect x="799.03" y="654.3" width="5.32" height="32.7" class="pane"/>
<line x1="799.03" y1="670.65" x2="804.35" y2="670.65" class="w" />
<line x1="573.5" y1="847.7" x2="573.5" y2="858.7" class="w" />
<line x1="654.3" y1="847.7" x2="654.3" y2="858.7" class="w" />
<rect x="575.5" y="850.9" width="36.4" height="4.8" class="pane"/>
<rect x="615.9" y="850.9" width="36.4" height="4.8" class="pane"/>
<line x1="613.9" y1="847.7" x2="613.9" y2="858.7" class="w" />
<line x1="907.53" y1="832.4" x2="919.45" y2="832.4" class="w" />
<polygon points="910.6,834 916.52,834 917.44,854 911.51,854" class="pane"/>
<line x1="381.5" y1="531.3" x2="432.6" y2="531.3" class="d" />
<text transform="translate(400.5,528.8) scale(0.8,1)" font-size="12.5" text-anchor="end" class="tl">120</text>
<text transform="translate(400.5,541.3) scale(0.8,1)" font-size="12.5" text-anchor="end" class="tl">120</text>
<line x1="381.5" y1="746.9" x2="432.6" y2="746.9" class="d" />
<text transform="translate(400.5,744.4) scale(0.8,1)" font-size="12.5" text-anchor="end" class="tl">120</text>
<text transform="translate(400.5,756.9) scale(0.8,1)" font-size="12.5" text-anchor="end" class="tl">120</text>
<line x1="703.5" y1="402" x2="703.5" y2="452" class="d" />
<text transform="translate(701,410) rotate(-90) scale(0.8,1)" font-size="12.5" text-anchor="middle" class="tl">120</text>
<text transform="translate(713.5,410) rotate(-90) scale(0.8,1)" font-size="12.5" text-anchor="middle" class="tl">120</text>
<line x1="800" y1="671.3" x2="826" y2="671.3" class="d" />
<text transform="translate(817,668.5) scale(0.8,1)" font-size="12.5" text-anchor="middle" class="tl">60</text>
<text transform="translate(817,681.5) scale(0.8,1)" font-size="12.5" text-anchor="middle" class="tl">60</text>
<line x1="885" y1="845.7" x2="935.7" y2="843.5" class="d" />
<text transform="translate(927.7,841.5) scale(0.8,1)" font-size="12.5" text-anchor="middle" class="tl">40</text>
<text transform="translate(927.7,855) scale(0.8,1)" font-size="12.5" text-anchor="middle" class="tl">60</text>
<line x1="613.3" y1="836" x2="613.3" y2="878.3" class="d" />
<text transform="translate(611,868) rotate(-90) scale(0.8,1)" font-size="12.5" text-anchor="middle" class="tl">140</text>
<text transform="translate(624,868) rotate(-90) scale(0.8,1)" font-size="12.5" text-anchor="middle" class="tl">140</text>
<line x1="576.7" y1="597" x2="576.7" y2="648.3" class="d" />
<text transform="translate(574.3,606) rotate(-90) scale(0.8,1)" font-size="12.5" text-anchor="middle" class="tl">80</text>
<text transform="translate(586.8,606) rotate(-90) scale(0.8,1)" font-size="12.5" text-anchor="middle" class="tl">205</text>
<line x1="631.5" y1="597" x2="631.5" y2="648.3" class="d" />
<text transform="translate(629.1,606) rotate(-90) scale(0.8,1)" font-size="12.5" text-anchor="middle" class="tl">90</text>
<text transform="translate(641.6,606) rotate(-90) scale(0.8,1)" font-size="12.5" text-anchor="middle" class="tl">205</text>
<line x1="768" y1="683.5" x2="768" y2="734" class="d" />
<text transform="translate(765.6,692) rotate(-90) scale(0.8,1)" font-size="12.5" text-anchor="middle" class="tl">70</text>
<text transform="translate(778,692) rotate(-90) scale(0.8,1)" font-size="12.5" text-anchor="middle" class="tl">205</text>
<line x1="534.7" y1="807" x2="534.7" y2="880" class="d" />
<text transform="translate(532.3,815.5) rotate(-90) scale(0.8,1)" font-size="12.5" text-anchor="middle" class="tl">135</text>
<text transform="translate(544.7,815.5) rotate(-90) scale(0.8,1)" font-size="12.5" text-anchor="middle" class="tl">220</text>
<line x1="775.6" y1="812.7" x2="826" y2="812.7" class="d" />
<text transform="translate(818,810) scale(0.8,1)" font-size="12.5" text-anchor="middle" class="tl">70</text>
<text transform="translate(818,823.5) scale(0.8,1)" font-size="12.5" text-anchor="middle" class="tl">205</text>
<line x1="866" y1="981" x2="866" y2="1042" class="d" />
<text transform="translate(863.6,987) rotate(-90) scale(0.8,1)" font-size="12.5" text-anchor="middle" class="tl">125</text>
<text transform="translate(876,987) rotate(-90) scale(0.8,1)" font-size="12.5" text-anchor="middle" class="tl">215</text>
<line x1="700" y1="1035" x2="700" y2="1086" class="d" />
<text transform="translate(697.6,1043) rotate(-90) scale(0.8,1)" font-size="12.5" text-anchor="middle" class="tl">100</text>
<text transform="translate(710,1043) rotate(-90) scale(0.8,1)" font-size="12.5" text-anchor="middle" class="tl">210</text>
<line x1="869.56" y1="698" x2="889.19" y2="1144" class="d" />
<line x1="864.94" y1="706.6" x2="874.94" y2="706.6" class="d" />
<line x1="866.14" y1="702.8" x2="873.74" y2="710.4" class="d" />
<line x1="865.45" y1="718.1" x2="875.45" y2="718.1" class="d" />
<line x1="866.65" y1="714.3" x2="874.25" y2="721.9" class="d" />
<line x1="871.51" y1="855.9" x2="881.51" y2="855.9" class="d" />
<line x1="872.71" y1="852.1" x2="880.31" y2="859.7" class="d" />
<line x1="872.04" y1="867.9" x2="882.04" y2="867.9" class="d" />
<line x1="873.24" y1="864.1" x2="880.84" y2="871.7" class="d" />
<line x1="878.49" y1="1014.6" x2="888.49" y2="1014.6" class="d" />
<line x1="879.69" y1="1010.8" x2="887.29" y2="1018.4" class="d" />
<line x1="879.02" y1="1026.6" x2="889.02" y2="1026.6" class="d" />
<line x1="880.22" y1="1022.8" x2="887.82" y2="1030.4" class="d" />
<line x1="879.57" y1="1039" x2="889.57" y2="1039" class="d" />
<line x1="880.77" y1="1035.2" x2="888.37" y2="1042.8" class="d" />
<line x1="883.31" y1="1124" x2="893.31" y2="1124" class="d" />
<line x1="884.51" y1="1120.2" x2="892.11" y2="1127.8" class="d" />
<line x1="883.95" y1="1138.6" x2="893.95" y2="1138.6" class="d" />
<line x1="885.15" y1="1134.8" x2="892.75" y2="1142.4" class="d" />
<text transform="translate(873.19,712.35) rotate(90) scale(0.53,1)" font-size="18.6" text-anchor="middle" class="t">20</text>
<text transform="translate(876.48,787) rotate(90) scale(0.53,1)" font-size="18.6" text-anchor="middle" class="t">240</text>
<text transform="translate(879.77,861.9) rotate(90) scale(0.53,1)" font-size="18.6" text-anchor="middle" class="t">20</text>
<text transform="translate(883.27,941.25) rotate(90) scale(0.53,1)" font-size="18.6" text-anchor="middle" class="t">256</text>
<text transform="translate(886.76,1020.6) rotate(90) scale(0.53,1)" font-size="18.6" text-anchor="middle" class="t">20</text>
<text transform="translate(887.29,1032.8) rotate(90) scale(0.53,1)" font-size="18.6" text-anchor="middle" class="t">21</text>
<text transform="translate(889.44,1081.5) rotate(90) scale(0.53,1)" font-size="18.6" text-anchor="middle" class="t">149</text>
<text transform="translate(891.63,1131.3) rotate(90) scale(0.53,1)" font-size="18.6" text-anchor="middle" class="t">25</text>
<text x="496.8" y="496.8" font-size="11" textLength="37" lengthAdjust="spacingAndGlyphs" class="t">SOBA 1</text>
<text x="489.7" y="509.3" font-size="11" textLength="51.7" lengthAdjust="spacingAndGlyphs" class="t">P=10,40m²</text>
<text x="511.1" y="526.9" font-size="16.5" textLength="31.3" lengthAdjust="spacingAndGlyphs" class="t">0.00</text>
<path d="M500.6,532.3 L506.2,532.3 A5.6,5.6 0 0 0 500.6,526.7 Z M500.6,532.3 L495,532.3 A5.6,5.6 0 0 0 500.6,537.9 Z" class="mkf"/>
<circle cx="500.6" cy="532.3" r="5.6" class="mk"/>
<line x1="488.6" y1="532.3" x2="512.6" y2="532.3" class="mkl" />
<line x1="500.6" y1="520.3" x2="500.6" y2="544.3" class="mkl" />
<text x="687.8" y="496.6" font-size="11" textLength="38.3" lengthAdjust="spacingAndGlyphs" class="t">SOBA 2</text>
<text x="680" y="509" font-size="11" textLength="52.3" lengthAdjust="spacingAndGlyphs" class="t">P=10,40m²</text>
<text x="701.6" y="526.9" font-size="16.5" textLength="31.6" lengthAdjust="spacingAndGlyphs" class="t">0.00</text>
<path d="M691.6,532 L697.2,532 A5.6,5.6 0 0 0 691.6,526.4 Z M691.6,532 L686,532 A5.6,5.6 0 0 0 691.6,537.6 Z" class="mkf"/>
<circle cx="691.6" cy="532" r="5.6" class="mk"/>
<line x1="679.6" y1="532" x2="703.6" y2="532" class="mkl" />
<line x1="691.6" y1="520" x2="691.6" y2="544" class="mkl" />
<text x="750" y="638.7" font-size="10" textLength="17.5" lengthAdjust="spacingAndGlyphs" class="t">WC</text>
<text x="731" y="651" font-size="10.5" textLength="46.5" lengthAdjust="spacingAndGlyphs" class="t">P=1,59m²</text>
<text x="456.1" y="722" font-size="10.5" textLength="126.5" lengthAdjust="spacingAndGlyphs" class="t">KUHINJA+BLAGOVAONA</text>
<text x="457.5" y="733.5" font-size="10" textLength="6" lengthAdjust="spacingAndGlyphs" class="t">+</text>
<text x="456" y="748" font-size="10.5" textLength="95" lengthAdjust="spacingAndGlyphs" class="t">DNEVNI BORAVAK</text>
<text x="461" y="760.9" font-size="11" textLength="50.7" lengthAdjust="spacingAndGlyphs" class="t">P=23,02m²</text>
<text x="479" y="785.8" font-size="16.5" textLength="31.4" lengthAdjust="spacingAndGlyphs" class="t">0.00</text>
<path d="M468.6,791.6 L474.2,791.6 A5.6,5.6 0 0 0 468.6,786 Z M468.6,791.6 L463,791.6 A5.6,5.6 0 0 0 468.6,797.2 Z" class="mkf"/>
<circle cx="468.6" cy="791.6" r="5.6" class="mk"/>
<line x1="456.6" y1="791.6" x2="480.6" y2="791.6" class="mkl" />
<line x1="468.6" y1="779.6" x2="468.6" y2="803.6" class="mkl" />
<text x="834.1" y="762.2" font-size="11" textLength="51.5" lengthAdjust="spacingAndGlyphs" class="t">KUPAONA</text>
<text x="834.1" y="774.5" font-size="11" textLength="45.5" lengthAdjust="spacingAndGlyphs" class="t">P=4,11m²</text>
<text x="842.1" y="792.3" font-size="16.5" textLength="30.8" lengthAdjust="spacingAndGlyphs" class="t">0.00</text>
<path d="M832.1,797.6 L837.7,797.6 A5.6,5.6 0 0 0 832.1,792 Z M832.1,797.6 L826.5,797.6 A5.6,5.6 0 0 0 832.1,803.2 Z" class="mkf"/>
<circle cx="832.1" cy="797.6" r="5.6" class="mk"/>
<line x1="820.1" y1="797.6" x2="844.1" y2="797.6" class="mkl" />
<line x1="832.1" y1="785.6" x2="832.1" y2="809.6" class="mkl" />
<text x="713.5" y="870.25" font-size="11" textLength="51.75" lengthAdjust="spacingAndGlyphs" class="t">SPREMA 1</text>
<text x="716.5" y="883" font-size="11" textLength="46.5" lengthAdjust="spacingAndGlyphs" class="t">P=2,00m²</text>
<text x="728.5" y="901.75" font-size="16.5" textLength="43.5" lengthAdjust="spacingAndGlyphs" class="t">−0.02</text>
<path d="M717.25,907 L722.85,907 A5.6,5.6 0 0 0 717.25,901.4 Z M717.25,907 L711.65,907 A5.6,5.6 0 0 0 717.25,912.6 Z" class="mkf"/>
<circle cx="717.25" cy="907" r="5.6" class="mk"/>
<line x1="705.25" y1="907" x2="729.25" y2="907" class="mkl" />
<line x1="717.25" y1="895" x2="717.25" y2="919" class="mkl" />
<text x="456" y="937.5" font-size="11" textLength="113.2" lengthAdjust="spacingAndGlyphs" class="t">NATKRIVENA TERASA</text>
<text x="485.7" y="950.1" font-size="11" textLength="51.8" lengthAdjust="spacingAndGlyphs" class="t">P=14,62m²</text>
<text x="511.3" y="967.9" font-size="16.5" textLength="44.4" lengthAdjust="spacingAndGlyphs" class="t">−0.02</text>
<path d="M500.4,973.5 L506,973.5 A5.6,5.6 0 0 0 500.4,967.9 Z M500.4,973.5 L494.8,973.5 A5.6,5.6 0 0 0 500.4,979.1 Z" class="mkf"/>
<circle cx="500.4" cy="973.5" r="5.6" class="mk"/>
<line x1="488.4" y1="973.5" x2="512.4" y2="973.5" class="mkl" />
<line x1="500.4" y1="961.5" x2="500.4" y2="985.5" class="mkl" />
<text x="828" y="915.4" font-size="11" textLength="52.8" lengthAdjust="spacingAndGlyphs" class="t">SPREMA 2</text>
<text x="833.9" y="928.1" font-size="11" textLength="45.8" lengthAdjust="spacingAndGlyphs" class="t">P=4,76m²</text>
<text x="833.3" y="947.5" font-size="16.5" textLength="46.4" lengthAdjust="spacingAndGlyphs" class="t">−0,22</text>
<path d="M821.7,953.4 L827.3,953.4 A5.6,5.6 0 0 0 821.7,947.8 Z M821.7,953.4 L816.1,953.4 A5.6,5.6 0 0 0 821.7,959 Z" class="mkf"/>
<circle cx="821.7" cy="953.4" r="5.6" class="mk"/>
<line x1="809.7" y1="953.4" x2="833.7" y2="953.4" class="mkl" />
<line x1="821.7" y1="941.4" x2="821.7" y2="965.4" class="mkl" />
<text x="677.5" y="969.25" font-size="11" textLength="104.25" lengthAdjust="spacingAndGlyphs" class="t">STUBIŠNI PROSTOR</text>
<text x="706" y="982" font-size="11" textLength="49.5" lengthAdjust="spacingAndGlyphs" class="t">P=4,62m²</text>
<text x="706" y="1011.5" font-size="16.5" textLength="45.75" lengthAdjust="spacingAndGlyphs" class="t">−0,05</text>
<path d="M695.5,1017.5 L701.1,1017.5 A5.6,5.6 0 0 0 695.5,1011.9 Z M695.5,1017.5 L689.9,1017.5 A5.6,5.6 0 0 0 695.5,1023.1 Z" class="mkf"/>
<circle cx="695.5" cy="1017.5" r="5.6" class="mk"/>
<line x1="683.5" y1="1017.5" x2="707.5" y2="1017.5" class="mkl" />
<line x1="695.5" y1="1005.5" x2="695.5" y2="1029.5" class="mkl" />
<text x="748.75" y="1091.75" font-size="16.5" textLength="45" lengthAdjust="spacingAndGlyphs" class="t">−0.37</text>
<path d="M737.5,1097.75 L743.1,1097.75 A5.6,5.6 0 0 0 737.5,1092.15 Z M737.5,1097.75 L731.9,1097.75 A5.6,5.6 0 0 0 737.5,1103.35 Z" class="mkf"/>
<circle cx="737.5" cy="1097.75" r="5.6" class="mk"/>
<line x1="725.5" y1="1097.75" x2="749.5" y2="1097.75" class="mkl" />
<line x1="737.5" y1="1085.75" x2="737.5" y2="1109.75" class="mkl" />
<polygon points="300.5,498.7 285.7,513.2 315.3,513.2" fill="#111"/>
<line x1="285.7" y1="516.3" x2="315.3" y2="516.3" stroke="#555" stroke-width="1.6"/>
<line x1="300.5" y1="516.5" x2="300.5" y2="549.3" class="sec" />
<text transform="translate(302.2,487.1) scale(0.56,1)" font-size="30.5" font-weight="bold" text-anchor="middle" class="t">A</text>
<polygon points="907.2,498.7 892.4,513.2 922,513.2" fill="#111"/>
<line x1="892.4" y1="516.3" x2="922" y2="516.3" stroke="#555" stroke-width="1.6"/>
<line x1="907.2" y1="516.5" x2="907.2" y2="549.3" class="sec" />
<text transform="translate(908.9,487.1) scale(0.56,1)" font-size="30.5" font-weight="bold" text-anchor="middle" class="t">A</text>
<line x1="300.5" y1="549.3" x2="907.2" y2="549.3" class="sec" />
<text transform="translate(217.8,166.9) scale(0.7315,1)" font-size="36.6" class="tt">TLOCRT PRIZEMLJA</text>
<circle cx="1083.3" cy="179.2" r="25.8" fill="none" stroke="#111" stroke-width="2"/>
<line x1="1065.06" y1="160.96" x2="1101.54" y2="197.44" class="cmp" />
<line x1="1065.06" y1="197.44" x2="1083.3" y2="179.2" class="cmp" />
<line x1="1083.3" y1="179.2" x2="1100.54" y2="161.96" stroke="#111" stroke-width="4.2"/>
<line x1="0" y1="0.8" x2="1200" y2="0.8" stroke="#222" stroke-width="2"/>
<polyline points="151,1422 151,101 1157,101 1157,1422" fill="none" stroke="#1a1a1a" stroke-width="2"/>
</svg></body></html>
